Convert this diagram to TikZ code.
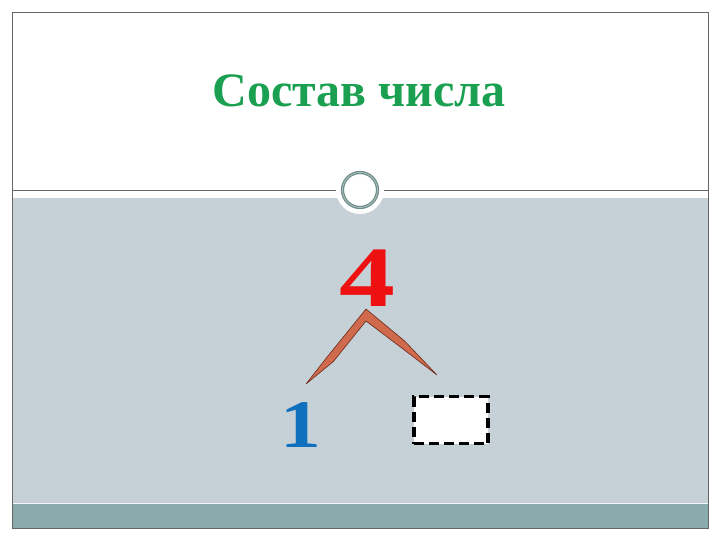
\documentclass[tikz,border=0pt]{standalone}
\usepackage{fontspec}
\setmainfont{Liberation Serif}
\definecolor{slidegray}{HTML}{C5D0D7}
\definecolor{bandteal}{HTML}{8AABAB}
\definecolor{ringcol}{HTML}{6E8E89}
\definecolor{titlegreen}{HTML}{1AA050}
\definecolor{numred}{HTML}{EE1111}
\definecolor{numblue}{HTML}{1070BE}
\definecolor{chevfill}{HTML}{D06A4C}
\definecolor{chevline}{HTML}{6A2A1A}
\tikzset{
  framebox/.style={draw=gray!80!black, line width=0.8pt},
  numtext/.style={inner sep=0pt, font=\bfseries},
  holebox/.style={draw=black, fill=white, line width=3.5pt, dash pattern=on 10pt off 5pt}
}
\begin{document}
\begin{tikzpicture}[x=1pt,y=-1pt]
\useasboundingbox (0,0) rectangle (720,540);
\fill[white] (0,0) rectangle (720,540);
% grey body and teal band
\fill[slidegray] (12,198) rectangle (708,503);
\fill[bandteal] (12,503) rectangle (708,528);
\draw[white!85!slidegray, line width=1pt] (12,503) -- (708,503);
% frame
\draw[framebox] (12,12) rectangle (708,528);
\draw[framebox] (12,190) -- (708,190);
% ring
\fill[white] (360,190) circle (24);
\draw[ringcol, line width=3.2pt] (360,190) circle (17.5);
\draw[ringcol!45!white, line width=0.6pt] (360,190) circle (17.5);
% title
\node[anchor=base, font=\bfseries\fontsize{48}{52}\selectfont, text=titlegreen] (title) at (359,107) {Состав числа};
% numbers
\node[numtext, anchor=base, xscale=1.3, font=\bfseries\fontsize{86}{86}\selectfont, text=numred] (four) at (367,306) {4};
\node[numtext, anchor=base, xscale=1.2, font=\bfseries\fontsize{68}{68}\selectfont, text=numblue] (one) at (301,447) {1};
% chevron
\filldraw[fill=chevfill, draw=chevline, line width=0.6pt, line join=round]
  (366,309) -- (404.6,341) -- (437,375) -- (400.4,347) -- (366,321)
  -- (333.4,361.5) -- (306,384) -- (327.6,356.4) -- cycle;
% missing number box
\node[holebox, minimum width=74pt, minimum height=47pt, inner sep=0pt] (hole) at (451,420) {};
\end{tikzpicture}
\end{document}
